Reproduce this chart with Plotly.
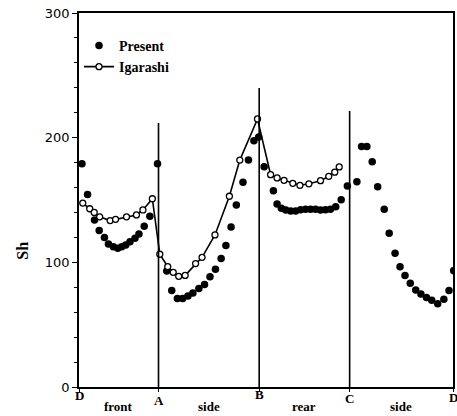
import plotly.graph_objects as go

# Perimeter position s (same units throughout) of the corners D, A, B, C, D
corner_pos = [0.0, 80.0, 181.3, 272.3, 376.3]
corner_labels = ["D", "A", "B", "C", "D"]
# Vertical placement of each corner letter below the axis (paper units)
corner_label_y = [-0.024, -0.037, -0.021, -0.032, -0.027]
# Height of the vertical corner markers at A, B, C
corner_line_top = [211.8, 239.8, 221.4]

# Side names, centred on each side
side_names = ["front", "side", "rear", "side"]

# Present results (Sh along the perimeter)
present_s = [3.0, 8.6, 15.6, 20.3, 25.6, 29.6, 34.6, 39.0, 43.0, 47.0, 51.3, 56.3,
             60.3, 65.6, 71.3, 79.0,
             88.3, 93.3, 99.0, 104.3, 109.6, 114.6, 120.6, 126.3, 131.8, 137.3, 143.0,
             147.8, 153.0, 158.3, 165.0, 170.5, 176.0, 180.8,
             186.3, 195.6, 199.3, 203.6, 208.0, 213.0, 218.0, 223.0, 228.0, 233.0,
             238.0, 243.0, 248.0, 253.0, 258.3, 263.8, 270.0,
             279.6, 284.3, 289.6, 295.0, 300.5, 307.1, 312.1, 318.0, 323.0, 328.0,
             333.3, 338.8, 344.0, 349.6, 354.9, 360.9, 367.1, 372.3, 377.0]
present_sh = [179.0, 154.5, 134.0, 125.5, 120.0, 114.7, 112.5, 111.2, 112.5, 113.9, 116.6, 119.3,
              122.7, 129.0, 137.0, 179.0,
              93.0, 77.5, 71.0, 71.0, 73.0, 75.5, 79.0, 82.2, 88.5, 94.4, 103.0,
              113.5, 128.3, 146.0, 164.3, 182.0, 197.5, 200.5,
              176.7, 157.5, 146.8, 143.3, 142.0, 141.2, 141.2, 142.2, 142.5, 142.5,
              142.5, 142.0, 142.2, 142.6, 144.6, 150.3, 161.3,
              164.7, 193.0, 193.0, 180.7, 160.7, 142.5, 123.3, 107.2, 96.5, 89.5,
              83.2, 77.8, 74.6, 71.7, 69.5, 66.8, 70.3, 77.5, 93.3]

# Igarashi's measurements (front, side and rear)
igarashi_s = [3.8, 10.8, 15.3, 20.8, 31.3, 36.8, 47.8, 57.8, 64.3, 73.8,
              81.3, 89.3, 94.8, 100.3, 106.8, 117.3, 123.8, 136.8, 151.3, 161.8, 179.6,
              192.8, 199.3, 206.3, 215.1, 222.3, 231.3, 243.0, 251.3, 257.3, 261.8]
igarashi_sh = [147.5, 143.0, 140.0, 136.5, 133.5, 134.5, 136.5, 138.0, 142.0, 151.0,
               106.5, 96.5, 92.0, 88.8, 89.5, 99.0, 104.0, 122.0, 153.0, 182.0, 215.0,
               170.3, 167.7, 165.8, 163.4, 161.8, 163.0, 165.5, 169.0, 172.3, 176.5]

serif = "Liberation Serif"
bold_serif = lambda size: dict(family=serif, size=size, color="black", weight="bold")

fig = go.Figure()

fig.add_trace(go.Scatter(
    x=present_s, y=present_sh, mode="markers", name="Present",
    marker=dict(symbol="circle", size=7.5, color="black"),
))
fig.add_trace(go.Scatter(
    x=igarashi_s, y=igarashi_sh, mode="lines+markers", name="Igarashi",
    line=dict(color="black", width=1.6),
    marker=dict(symbol="circle", size=6, color="white",
                line=dict(color="black", width=1.3)),
))

# Vertical lines at the inner corners A, B, C
for pos, top in zip(corner_pos[1:4], corner_line_top):
    fig.add_shape(type="line", xref="x", yref="y", x0=pos, x1=pos, y0=0, y1=top,
                  line=dict(color="black", width=1.6))

# Corner letters under the axis
for pos, lab, ly in zip(corner_pos, corner_labels, corner_label_y):
    fig.add_annotation(x=pos, xref="x", y=ly, yref="paper", yanchor="middle",
                       text=lab, showarrow=False, font=bold_serif(13))

# Side names below the corner letters
for i, name in enumerate(side_names):
    fig.add_annotation(x=(corner_pos[i] + corner_pos[i + 1]) / 2, xref="x",
                       y=-0.077, yref="paper", yanchor="bottom", text=name,
                       showarrow=False, font=bold_serif(13))

# Rotated y label
fig.add_annotation(x=-0.152, xref="paper", xanchor="center", y=0.365, yref="paper",
                   yanchor="middle", text="Sh", textangle=-90, showarrow=False,
                   font=bold_serif(16))

fig.update_xaxes(
    range=[corner_pos[0], corner_pos[-1]],
    tickmode="array", tickvals=corner_pos, showticklabels=False,
    ticks="outside", ticklen=3, tickcolor="black", tickwidth=1.3,
    showline=True, linecolor="black", linewidth=1.6, mirror=True,
    showgrid=False, zeroline=False,
)
fig.update_yaxes(
    range=[0, 300], tickmode="array", tickvals=[0, 100, 200, 300],
    ticks="outside", ticklen=5, tickcolor="black", tickwidth=1.3,
    minor=dict(dtick=20, ticks="outside", ticklen=3, tickcolor="black", tickwidth=1.2),
    tickfont=dict(family="DejaVu Sans", size=13, color="black"),
    showline=True, linecolor="black", linewidth=1.6, mirror=True,
    showgrid=False, zeroline=False,
)

fig.update_layout(
    width=457, height=416,
    margin=dict(l=79, r=2, t=13, b=29),
    paper_bgcolor="white", plot_bgcolor="white",
    showlegend=True,
    legend=dict(x=0.0, y=0.955, xanchor="left", yanchor="top",
                bgcolor="rgba(0,0,0,0)", borderwidth=0,
                font=bold_serif(14), tracegroupgap=0),
)

fig.write_html("out.html")
